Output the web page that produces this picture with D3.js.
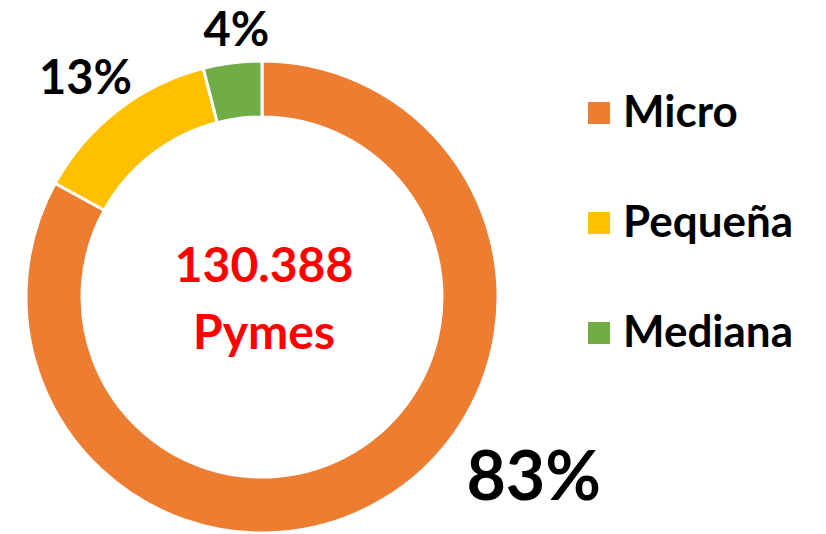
<!DOCTYPE html>
<html>
<head>
<meta charset="utf-8">
<script src="https://cdn.jsdelivr.net/npm/d3@7"></script>
<style>
  body { margin: 0; background: #fff; }
  text { font-family: Lato, "Open Sans", sans-serif; font-weight: bold; }
</style>
</head>
<body>
<div id="chart"></div>
<script>
// Data
var categories = ["Micro", "Pequeña", "Mediana"];
var shares = [83, 13, 4];
var colors = ["#ED7D31", "#FFC000", "#70AD47"];
var centerLines = ["130.388", "Pymes"];

var width = 826, height = 534;
var cx = 262, cy = 297;
var outerR = 236, innerR = 180;

var svg = d3.select("#chart").append("svg")
  .attr("width", width)
  .attr("height", height);

var g = svg.append("g")
  .attr("transform", "translate(" + cx + "," + cy + ")");

var pie = d3.pie().sort(null).value(function(d) { return d; });
var arcs = pie(shares);

var arc = d3.arc().innerRadius(innerR).outerRadius(outerR);

g.selectAll("path.slice")
  .data(arcs)
  .enter()
  .append("path")
  .attr("class", "slice")
  .attr("d", arc)
  .attr("fill", function(d, i) { return colors[i]; })
  .attr("stroke", "#fff")
  .attr("stroke-width", 3);

// Percentage labels (radius and nudges per slice, like Excel placed them)
var labelR = [300, 280, 268];
var labelShift = [[119, -82], [-5, 0], [8, -3]];
var labelSize = [68, 47, 47];

g.selectAll("text.pct")
  .data(arcs)
  .enter()
  .append("text")
  .attr("class", "pct")
  .attr("text-anchor", "middle")
  .attr("dominant-baseline", "central")
  .attr("x", function(d, i) {
    var a = (d.startAngle + d.endAngle) / 2;
    return Math.sin(a) * labelR[i] + labelShift[i][0];
  })
  .attr("y", function(d, i) {
    var a = (d.startAngle + d.endAngle) / 2;
    return -Math.cos(a) * labelR[i] + labelShift[i][1];
  })
  .style("font-size", function(d, i) { return labelSize[i] + "px"; })
  .style("fill", "#000")
  .text(function(d) { return d.data + "%"; });

// Center text
g.selectAll("text.center")
  .data(centerLines)
  .enter()
  .append("text")
  .attr("class", "center")
  .attr("text-anchor", "middle")
  .attr("x", 2)
  .attr("y", function(d, i) { return -15 + i * 67; })
  .style("font-size", "48px")
  .style("fill", "#FF0000")
  .text(function(d) { return d; });

// Legend
var legend = svg.append("g")
  .attr("transform", "translate(588,102)");

var items = legend.selectAll("g.item")
  .data(categories)
  .enter()
  .append("g")
  .attr("class", "item")
  .attr("transform", function(d, i) { return "translate(0," + (i * 110) + ")"; });

items.append("rect")
  .attr("width", 22)
  .attr("height", 22)
  .attr("fill", function(d, i) { return colors[i]; });

items.append("text")
  .attr("x", 35)
  .attr("y", 25)
  .style("font-size", "44px")
  .style("fill", "#000")
  .text(function(d) { return d; });
</script>
</body>
</html>
